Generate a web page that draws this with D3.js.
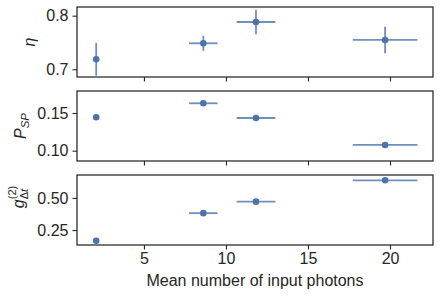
<!DOCTYPE html>
<html>
<head>
<meta charset="utf-8">
<script src="https://cdn.jsdelivr.net/npm/d3@7"></script>
<style>
  body { margin: 0; background: #fff; }
  text { font-family: "Liberation Sans", Arial, sans-serif; fill: #262626; }
</style>
</head>
<body>
<svg width="440" height="296"></svg>
<script>
  // DATA
  const photons = [2.09, 8.62, 11.83, 19.70];
  const photonsErr = [0, 0.87, 1.18, 1.97];
  const eta = [0.7187, 0.7485, 0.7882, 0.7547];
  const etaErr = [0.0307, 0.014, 0.023, 0.0247];
  const psp = [0.1443, 0.1629, 0.1434, 0.1076];
  const g2 = [0.167, 0.3815, 0.471, 0.637];
  const xTicks = [5, 10, 15, 20];
  const etaTicks = [0.7, 0.8];
  const pspTicks = [0.10, 0.15];
  const g2Ticks = [0.25, 0.50];
  const xLabel = "Mean number of input photons";

  const svg = d3.select("svg");
  const color = "#4c72b0";
  const left = 77, right = 433;

  const x = d3.scaleLinear().domain([0.92, 22.62]).range([left, right]);

  const panels = [
    { top: 7, bottom: 77, domain: [0.6856, 0.8162], vals: eta, err: etaErr, ticks: etaTicks, fmt: d3.format(".1f"), label: "eta" },
    { top: 91, bottom: 161, domain: [0.0863, 0.1792], vals: psp, err: null, ticks: pspTicks, fmt: d3.format(".2f"), label: "psp" },
    { top: 175, bottom: 245, domain: [0.134, 0.678], vals: g2, err: null, ticks: g2Ticks, fmt: d3.format(".2f"), label: "g2" }
  ];

  panels.forEach((p, i) => {
    const y = d3.scaleLinear().domain(p.domain).range([p.bottom, p.top]);
    const g = svg.append("g");

    // axes
    const xAxis = d3.axisBottom(x).tickValues(xTicks).tickSize(4.5).tickPadding(3)
      .tickFormat(i === 2 ? d3.format("d") : "");
    const xg = g.append("g").attr("transform", `translate(0,${p.bottom})`).call(xAxis);
    const yAxis = d3.axisLeft(y).tickValues(p.ticks).tickSize(4.5).tickPadding(4).tickFormat(p.fmt);
    const yg = g.append("g").attr("transform", `translate(${left},0)`).call(yAxis);
    [xg, yg].forEach(a => {
      a.select(".domain").remove();
      a.selectAll(".tick line").attr("stroke", "#262626").attr("stroke-width", 1.1);
      a.selectAll(".tick text").attr("font-size", 16).attr("fill", "#262626")
        .attr("font-family", "'Liberation Sans', Arial, sans-serif");
    });

    // frame
    g.append("rect")
      .attr("x", left).attr("y", p.top)
      .attr("width", right - left).attr("height", p.bottom - p.top)
      .attr("fill", "none").attr("stroke", "#262626").attr("stroke-width", 1.25);

    const idx = d3.range(p.vals.length);
    // x error bars
    g.selectAll(".xerr").data(idx.filter(k => photonsErr[k] > 0)).join("line")
      .attr("x1", k => x(photons[k] - photonsErr[k]))
      .attr("x2", k => x(photons[k] + photonsErr[k]))
      .attr("y1", k => y(p.vals[k])).attr("y2", k => y(p.vals[k]))
      .attr("stroke", color).attr("stroke-opacity", 0.8).attr("stroke-width", 1.8);
    // y error bars
    if (p.err) {
      g.selectAll(".yerr").data(idx).join("line")
        .attr("x1", k => x(photons[k])).attr("x2", k => x(photons[k]))
        .attr("y1", k => y(p.vals[k] - p.err[k]))
        .attr("y2", k => y(p.vals[k] + p.err[k]))
        .attr("stroke", color).attr("stroke-opacity", 0.8).attr("stroke-width", 1.8);
    }
    // points
    g.selectAll("circle").data(idx).join("circle")
      .attr("cx", k => x(photons[k])).attr("cy", k => y(p.vals[k]))
      .attr("r", 3.3).attr("fill", color);

    // y labels
    const cy = (p.top + p.bottom) / 2;
    if (p.label === "eta") {
      g.append("text").attr("transform", `translate(34.5,${cy}) rotate(-90)`)
        .attr("text-anchor", "middle").attr("font-size", 16)
        .attr("font-family", "'DejaVu Sans', sans-serif").attr("font-style", "italic")
        .text("η");
    } else if (p.label === "psp") {
      const t = g.append("text").attr("transform", `translate(25.5,${cy}) rotate(-90)`)
        .attr("text-anchor", "middle").attr("font-size", 16)
        .attr("font-family", "'DejaVu Sans', sans-serif").attr("font-style", "italic");
      t.append("tspan").text("P");
      t.append("tspan").attr("font-size", 11.5).attr("dy", 3).text("SP");
    } else {
      const t = g.append("text").attr("transform", `translate(23.5,197) rotate(-90)`)
        .attr("text-anchor", "middle").attr("font-size", 16)
        .attr("font-family", "'DejaVu Sans', sans-serif");
      t.append("tspan").attr("font-style", "italic").text("g");
      const sup = t.append("tspan").attr("font-size", 11).attr("dy", -8).text("(2)");
      const w = sup.node().getComputedTextLength();
      t.append("tspan").attr("font-size", 11).attr("dx", -w).attr("dy", 12).text("Δ");
      t.append("tspan").attr("font-size", 11).attr("font-style", "italic").text("t");
    }
  });

  // x label
  svg.append("text")
    .attr("x", (left + right) / 2).attr("y", 286)
    .attr("text-anchor", "middle").attr("font-size", 16)
    .text(xLabel);
</script>
</body>
</html>
